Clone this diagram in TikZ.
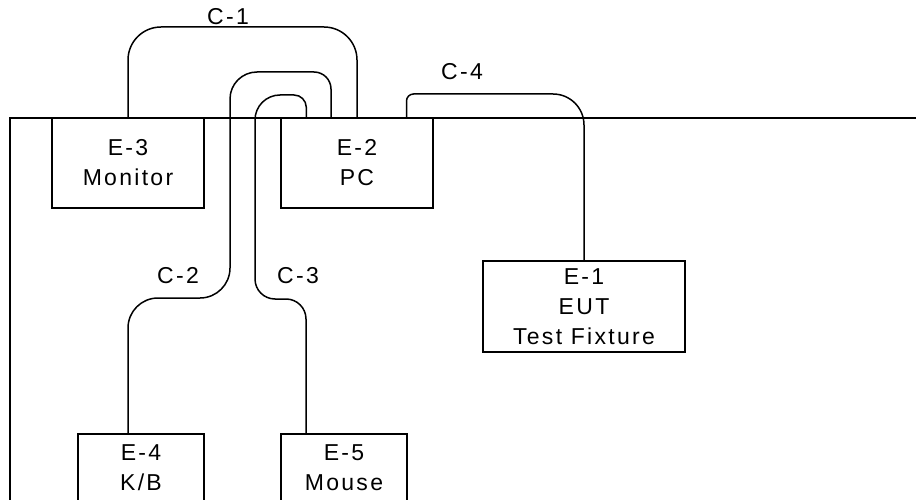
\documentclass[tikz,border=0pt]{standalone}
\usepackage{fontspec}
\setmainfont{Liberation Sans}[LetterSpace=10]
\usepackage{tikz}
\usetikzlibrary{positioning}

\begin{document}
\begin{tikzpicture}[x=1pt,y=-1pt,node distance=8mm and 77pt,
    box/.style={draw,line width=1.5pt,minimum width=152pt,minimum height=90pt,
      inner sep=0pt,outer sep=0pt,align=center,font=\fontsize{23}{30}\selectfont},
    cab/.style={line width=1.5pt},
    tag/.style={font=\fontsize{23}{26}\selectfont,anchor=base}]
  \useasboundingbox (0,0) rectangle (916,500);
  % bench edge
  \draw[cab] (930,118) -| (10,520);
  \node[box](mon) at (128,163){E-3\\Monitor};
  \node[box,right=of mon](pc){E-2\\PC};
  \node[box,minimum width=202pt,minimum height=91pt](eut) at (584,306.5){E-1\\EUT\\Test Fixture};
  \node[box,minimum width=126pt,minimum height=68pt](kb) at (141,468){E-4\\K/B};
  \node[box,minimum width=126pt,minimum height=68pt,right=of kb](ms){E-5\\Mouse};
  % cables
  \draw[cab,rounded corners=33pt](mon.north) -- ++(0,-91) -| (pc.north);
  \draw[cab]([xshift=-26pt]pc.north) [rounded corners=17pt] -- (331,72)
    [rounded corners=27pt] -- (230,72) [rounded corners=30pt] -- (230,298)
    -- (128,298) -- ([xshift=-13pt]kb.north);
  \draw[cab]([xshift=-50.5pt]pc.north) [rounded corners=12pt] -- (306,95)
    [rounded corners=25pt] -- (255,95) [rounded corners=20pt] -- (255,299)
    -- (306,299) -- ([xshift=-38pt]ms.north);
  \draw[cab,rounded corners=7pt]([xshift=49.5pt]pc.north) -- ++(0,-24)
    [rounded corners=31pt] -| (eut.north);
  \node[tag](c1) at (228,25){C-1};
  \node[tag](c4) at (462,80){C-4};
  \node[tag](c2) at (178,283){C-2};
  \node[tag](c3) at (298,283){C-3};
\end{tikzpicture}
\end{document}
